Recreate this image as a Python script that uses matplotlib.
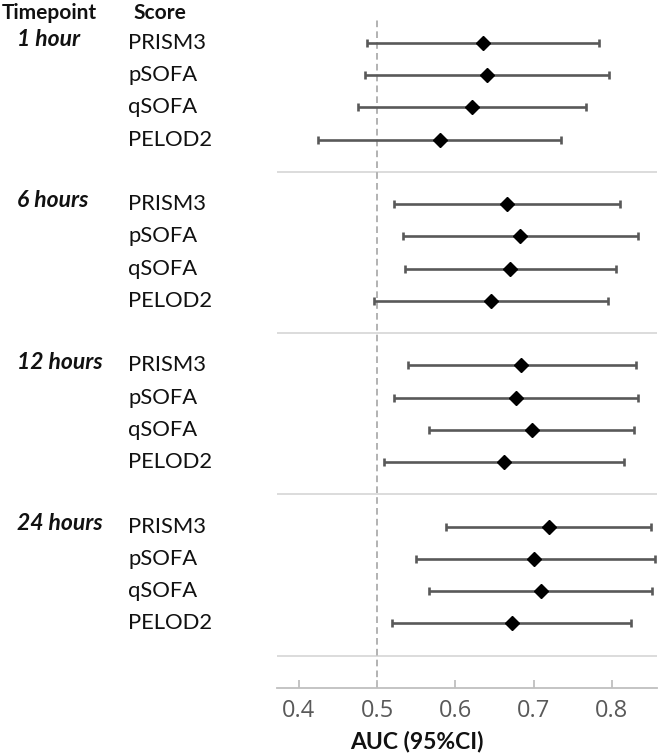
import matplotlib
matplotlib.use("Agg")
import matplotlib.pyplot as plt
from matplotlib.transforms import blended_transform_factory

timepoints = ["1 hour", "6 hours", "12 hours", "24 hours"]
scores = ["PRISM3", "pSOFA", "qSOFA", "PELOD2"]

auc = [
    [0.635, 0.641, 0.621, 0.580],
    [0.666, 0.682, 0.670, 0.646],
    [0.684, 0.678, 0.698, 0.662],
    [0.720, 0.701, 0.709, 0.672],
]
ci_low = [
    [0.487, 0.484, 0.475, 0.424],
    [0.521, 0.533, 0.535, 0.496],
    [0.539, 0.522, 0.566, 0.509],
    [0.588, 0.549, 0.566, 0.519],
]
ci_high = [
    [0.783, 0.796, 0.767, 0.735],
    [0.811, 0.833, 0.806, 0.795],
    [0.831, 0.834, 0.828, 0.815],
    [0.850, 0.855, 0.851, 0.825],
]
xticks = [0.4, 0.5, 0.6, 0.7, 0.8]
ref_line = 0.5

W, H = 661, 754
fig = plt.figure(figsize=(W / 100, H / 100), dpi=100)
ax = fig.add_axes([277 / W, (H - 688) / H, (657 - 277) / W, (688 - 18) / H])

label_font = "Lato"
err_color = "#595959"
txt_color = "#111111"

ax.axvline(ref_line, color="#a6a6a6", lw=1.2, ls=(0, (4, 2.5)), zorder=1)

trans = blended_transform_factory(fig.transFigure, ax.transData)
for g, tp in enumerate(timepoints):
    base = g * 5
    for r, sc in enumerate(scores):
        y = base + r
        m = auc[g][r]
        lo = ci_low[g][r]
        hi = ci_high[g][r]
        ax.errorbar([m], [y], xerr=[[m - lo], [hi - m]], fmt="none",
                    ecolor=err_color, elinewidth=1.9, capsize=3.2,
                    capthick=1.9, zorder=2)
        ax.plot([m], [y], marker="D", ms=7.5, color="black", ls="none",
                zorder=3)
        ax.text(128 / W, y, sc, transform=trans, ha="left", va="center",
                fontsize=15.8, family=label_font, color=txt_color, clip_on=False)
    ax.text(17 / W, base - 0.1, tp, transform=trans, ha="left", va="center",
            fontsize=16.5, family=label_font, fontweight="bold",
            fontstyle="italic", color=txt_color, clip_on=False)
    ax.axhline(base + 4, color="#d9d9d9", lw=1.3, zorder=0)

fig.text(2 / W, 1 - 13 / H, "Timepoint", ha="left", va="center", fontsize=15,
         family=label_font, fontweight="bold", color=txt_color)
fig.text(133 / W, 1 - 13 / H, "Score", ha="left", va="center", fontsize=15,
         family=label_font, fontweight="bold", color=txt_color)

ax.set_xlim(0.3719, 0.8578)
ax.set_ylim(20, -0.77)
ax.set_yticks([])
ax.set_xticks(xticks)
ax.set_xticklabels([f"{t:.1f}" for t in xticks])
for s in ["top", "right", "left"]:
    ax.spines[s].set_visible(False)
ax.spines["bottom"].set_color("#bfbfbf")
ax.spines["bottom"].set_linewidth(1.3)
ax.tick_params(axis="x", direction="in", length=6, width=1.3, color="#bfbfbf",
               labelsize=17, labelcolor="#595959", pad=8)
for lab in ax.get_xticklabels():
    lab.set_family("Open Sans")

fig.text(417 / W, 1 - 742 / H, "AUC (95%CI)", ha="center", va="center",
         fontsize=16.5, family=label_font, fontweight="bold", color=txt_color)

fig.savefig("out.png", dpi=100)
